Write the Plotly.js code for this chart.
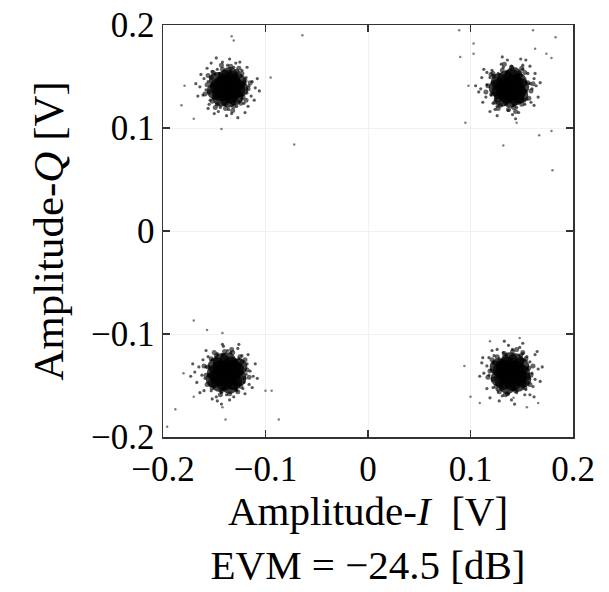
<!DOCTYPE html>
<html>
<head>
<meta charset="utf-8">
<script src="https://cdn.plot.ly/plotly-3.0.1.min.js"></script>
<style>html,body{margin:0;padding:0;background:#fff;}#chart{width:609px;height:592px;}</style>
</head>
<body>
<div id="chart"></div>
<script>
// Tick values (V)
const tickValues = [-0.2, -0.1, 0, 0.1, 0.2];

// Dense core samples of the four constellation clusters (TL, TR, BL, BR), I and Q in volts
const coreI = [
  -0.137,-0.131,-0.142,-0.134,-0.144,-0.128,-0.139,-0.133,-0.146,-0.136,-0.127,-0.143,-0.130,-0.147,-0.125,-0.149,-0.135,-0.140,-0.132,-0.138,
  0.138,0.132,0.143,0.135,0.146,0.129,0.140,0.134,0.147,0.139,0.128,0.144,0.131,0.149,0.126,0.142,0.137,0.141,0.133,0.148,
  -0.138,-0.133,-0.144,-0.134,-0.146,-0.129,-0.140,-0.148,-0.131,-0.137,-0.149,-0.127,-0.143,-0.145,-0.126,-0.135,-0.141,-0.136,-0.132,-0.150,
  0.139,0.134,0.145,0.135,0.147,0.130,0.141,0.149,0.132,0.138,0.150,0.128,0.144,0.146,0.127,0.136,0.142,0.137,0.133,0.151
];
const coreQ = [
  0.139,0.142,0.143,0.132,0.134,0.137,0.148,0.147,0.140,0.128,0.145,0.129,0.130,0.146,0.138,0.136,0.151,0.135,0.140,0.144,
  0.139,0.141,0.144,0.132,0.135,0.136,0.149,0.147,0.145,0.128,0.145,0.130,0.129,0.140,0.139,0.151,0.135,0.142,0.138,0.132,
  -0.137,-0.141,-0.134,-0.130,-0.142,-0.135,-0.147,-0.131,-0.146,-0.126,-0.138,-0.143,-0.127,-0.148,-0.132,-0.150,-0.135,-0.140,-0.133,-0.144,
  -0.137,-0.141,-0.134,-0.130,-0.142,-0.135,-0.147,-0.131,-0.146,-0.126,-0.138,-0.143,-0.127,-0.148,-0.132,-0.150,-0.135,-0.140,-0.133,-0.144
];

// Dense fringe samples just outside each core
const fringeI = [
  -0.120,-0.155,-0.131,-0.142,-0.122,-0.153,-0.128,-0.147,-0.117,-0.157,-0.139,-0.134,-0.123,-0.152,-0.124,-0.151,-0.115,-0.159,-0.132,-0.143,-0.119,-0.156,-0.126,-0.149,
  0.156,0.121,0.142,0.131,0.152,0.123,0.148,0.129,0.159,0.117,0.137,0.140,0.153,0.124,0.150,0.122,0.161,0.115,0.144,0.133,0.157,0.120,0.150,0.127,
  -0.121,-0.156,-0.132,-0.143,-0.123,-0.154,-0.129,-0.148,-0.118,-0.158,-0.140,-0.135,-0.124,-0.153,-0.125,-0.152,-0.116,-0.160,-0.133,-0.144,-0.120,-0.157,-0.127,-0.150,
  0.122,0.157,0.133,0.144,0.124,0.155,0.130,0.149,0.119,0.159,0.141,0.136,0.125,0.154,0.126,0.153,0.117,0.161,0.134,0.145,0.121,0.158,0.128,0.151
];
const fringeQ = [
  0.146,0.135,0.121,0.157,0.130,0.149,0.155,0.123,0.138,0.142,0.119,0.160,0.153,0.126,0.124,0.154,0.144,0.133,0.117,0.161,0.127,0.151,0.158,0.120,
  0.144,0.133,0.120,0.156,0.127,0.150,0.154,0.122,0.136,0.141,0.118,0.159,0.154,0.125,0.123,0.153,0.143,0.135,0.116,0.162,0.129,0.152,0.158,0.119,
  -0.143,-0.132,-0.118,-0.155,-0.127,-0.147,-0.153,-0.121,-0.135,-0.140,-0.117,-0.158,-0.151,-0.124,-0.122,-0.152,-0.142,-0.131,-0.115,-0.159,-0.125,-0.149,-0.156,-0.118,
  -0.144,-0.133,-0.119,-0.155,-0.128,-0.147,-0.153,-0.121,-0.136,-0.140,-0.117,-0.158,-0.151,-0.124,-0.122,-0.152,-0.142,-0.131,-0.159,-0.115,-0.125,-0.149,-0.156,-0.118
];

// Scattered halo samples around each cluster
const haloI = [
  -0.122,-0.153,-0.134,-0.139,-0.124,-0.149,-0.126,-0.151,-0.118,-0.156,-0.131,-0.144,-0.119,-0.154,-0.128,-0.147,-0.116,-0.158,-0.136,-0.137,
  -0.121,-0.152,-0.123,-0.155,-0.114,-0.160,-0.129,-0.146,-0.113,-0.161,-0.133,-0.142,-0.117,-0.157,-0.118,-0.156,-0.110,-0.164,-0.135,-0.138,
  -0.125,-0.150,-0.111,-0.163,-0.120,-0.153,-0.108,-0.166,-0.127,-0.148,-0.106,-0.168,-0.123,-0.150,-0.126,-0.145,
  0.154,0.123,0.142,0.135,0.150,0.125,0.148,0.127,0.158,0.120,0.145,0.132,0.155,0.119,0.151,0.126,0.160,0.116,0.140,0.137,
  0.156,0.122,0.153,0.121,0.162,0.115,0.147,0.130,0.159,0.116,0.151,0.124,0.164,0.110,0.136,0.141,0.162,0.113,0.158,0.119,
  0.166,0.111,0.149,0.126,0.168,0.108,0.144,0.131,0.151,0.127,0.147,0.128,0.163,0.112,0.105,0.154,
  -0.124,-0.155,-0.133,-0.142,-0.127,-0.152,-0.126,-0.150,-0.119,-0.158,-0.143,-0.134,-0.121,-0.154,-0.147,-0.128,-0.118,-0.159,-0.138,-0.137,
  -0.156,-0.123,-0.122,-0.153,-0.115,-0.162,-0.141,-0.131,-0.116,-0.161,-0.148,-0.127,-0.165,-0.112,-0.135,-0.142,-0.160,-0.117,-0.120,-0.158,
  -0.167,-0.110,-0.147,-0.126,-0.169,-0.108,-0.143,-0.171,-0.164,-0.173,-0.125,-0.150,-0.146,-0.129,-0.152,-0.113,
  0.124,0.155,0.135,0.142,0.127,0.152,0.128,0.151,0.120,0.157,0.132,0.145,0.122,0.158,0.126,0.151,0.118,0.160,0.137,0.141,
  0.122,0.155,0.123,0.154,0.116,0.163,0.131,0.148,0.118,0.161,0.126,0.153,0.113,0.166,0.140,0.137,0.116,0.163,0.121,0.158,
  0.111,0.168,0.128,0.151,0.109,0.170,0.143,0.133,0.127,0.151,0.129,0.150,0.112,0.165,0.119,0.162
];
const haloQ = [
  0.143,0.141,0.156,0.123,0.150,0.152,0.126,0.129,0.134,0.145,0.159,0.120,0.149,0.127,0.121,0.157,0.141,0.137,0.118,0.161,
  0.124,0.155,0.156,0.123,0.131,0.148,0.163,0.116,0.145,0.132,0.114,0.164,0.121,0.158,0.159,0.119,0.139,0.140,0.167,0.112,
  0.164,0.114,0.127,0.152,0.115,0.163,0.148,0.131,0.110,0.168,0.136,0.143,0.128,0.131,0.154,0.153,
  0.136,0.144,0.122,0.155,0.151,0.128,0.125,0.153,0.143,0.132,0.120,0.159,0.128,0.149,0.157,0.121,0.138,0.142,0.160,0.117,
  0.153,0.124,0.123,0.156,0.148,0.130,0.115,0.162,0.125,0.154,0.161,0.118,0.141,0.138,0.166,0.113,0.122,0.157,0.160,0.116,
  0.130,0.149,0.167,0.112,0.144,0.135,0.109,0.169,0.129,0.148,0.152,0.126,0.153,0.125,0.141,0.166,
  -0.131,-0.140,-0.153,-0.120,-0.149,-0.125,-0.124,-0.151,-0.139,-0.132,-0.157,-0.118,-0.147,-0.150,-0.119,-0.155,-0.129,-0.143,-0.159,-0.116,
  -0.122,-0.121,-0.153,-0.155,-0.136,-0.140,-0.112,-0.161,-0.149,-0.125,-0.161,-0.114,-0.132,-0.141,-0.164,-0.110,-0.155,-0.120,-0.158,-0.116,
  -0.147,-0.129,-0.165,-0.110,-0.137,-0.143,-0.168,-0.129,-0.157,-0.141,-0.148,-0.129,-0.149,-0.125,-0.163,-0.152,
  -0.142,-0.134,-0.121,-0.154,-0.149,-0.126,-0.124,-0.150,-0.135,-0.143,-0.118,-0.157,-0.128,-0.127,-0.154,-0.119,-0.140,-0.138,-0.158,-0.115,
  -0.152,-0.122,-0.121,-0.154,-0.131,-0.144,-0.160,-0.113,-0.123,-0.151,-0.115,-0.159,-0.138,-0.134,-0.164,-0.111,-0.153,-0.120,-0.116,-0.159,
  -0.128,-0.146,-0.165,-0.109,-0.141,-0.132,-0.168,-0.107,-0.127,-0.146,-0.150,-0.125,-0.123,-0.117,-0.162,-0.161
];

// Isolated outlier samples
const outlierI = [
  -0.133,-0.131,-0.064,-0.095,-0.182,-0.179,-0.170,-0.143,-0.072,
  0.089,0.103,0.103,0.090,0.161,0.183,0.163,0.174,0.179,0.098,0.095,0.167,0.179,0.132,0.180,0.145,
  -0.170,-0.157,-0.142,-0.180,-0.094,-0.100,-0.188,-0.196,-0.139,-0.087,-0.170,-0.142,
  0.094,0.100,0.109,0.119,0.148,0.166,0.155,0.142,0.127
];
const outlierQ = [
  0.189,0.185,0.190,0.149,0.122,0.141,0.109,0.099,0.084,
  0.195,0.182,0.172,0.169,0.195,0.188,0.177,0.172,0.168,0.141,0.105,0.093,0.097,0.083,0.059,0.105,
  -0.087,-0.096,-0.099,-0.138,-0.155,-0.155,-0.173,-0.190,-0.183,-0.183,-0.161,-0.171,
  -0.131,-0.161,-0.167,-0.107,-0.104,-0.167,-0.171,-0.162,-0.156
];

const traces = [
  {type:'scatter', mode:'markers', x:outlierI, y:outlierQ, hoverinfo:'skip',
   marker:{size:2.5, color:'rgba(40,40,40,0.6)', line:{width:0}}},
  {type:'scatter', mode:'markers', x:haloI, y:haloQ, hoverinfo:'skip',
   marker:{size:3.2, color:'rgba(0,0,0,0.65)', line:{width:0}}},
  {type:'scatter', mode:'markers', x:fringeI, y:fringeQ, hoverinfo:'skip',
   marker:{size:5, color:'rgba(0,0,0,0.6)', line:{width:0}}},
  {type:'scatter', mode:'markers', x:coreI, y:coreQ, hoverinfo:'skip',
   marker:{size:17, color:'rgba(0,0,0,0.75)', line:{width:0}}}
];

const axisCommon = {
  range:[-0.2, 0.2], tickmode:'array', tickvals:tickValues,
  ticks:'inside', ticklen:7, tickwidth:1.5, tickcolor:'#333',
  showline:true, linecolor:'#333', linewidth:1.5, mirror:'ticks',
  showgrid:true, gridcolor:'#f1f1f1', gridwidth:1, zeroline:false,
  tickfont:{family:'"Liberation Serif", "Times New Roman", serif', size:35, color:'#000'}
};

const layout = {
  width:609, height:592,
  margin:{l:163, r:36, t:25, b:155},
  paper_bgcolor:'#fff', plot_bgcolor:'#fff',
  showlegend:false,
  font:{family:'"Liberation Serif", "Times New Roman", serif', color:'#000'},
  xaxis:Object.assign({}, axisCommon, {
    title:{text:'Amplitude-<i>I</i>  [V]<br>EVM = −24.5 [dB]', font:{size:41, color:'#000'}, standoff:6}
  }),
  yaxis:Object.assign({}, axisCommon, {
    title:{text:'Amplitude-<i>Q</i> [V]', font:{size:43, color:'#000'}, standoff:14}
  })
};

Plotly.newPlot('chart', traces, layout, {staticPlot:true, displayModeBar:false});
</script>
</body>
</html>
